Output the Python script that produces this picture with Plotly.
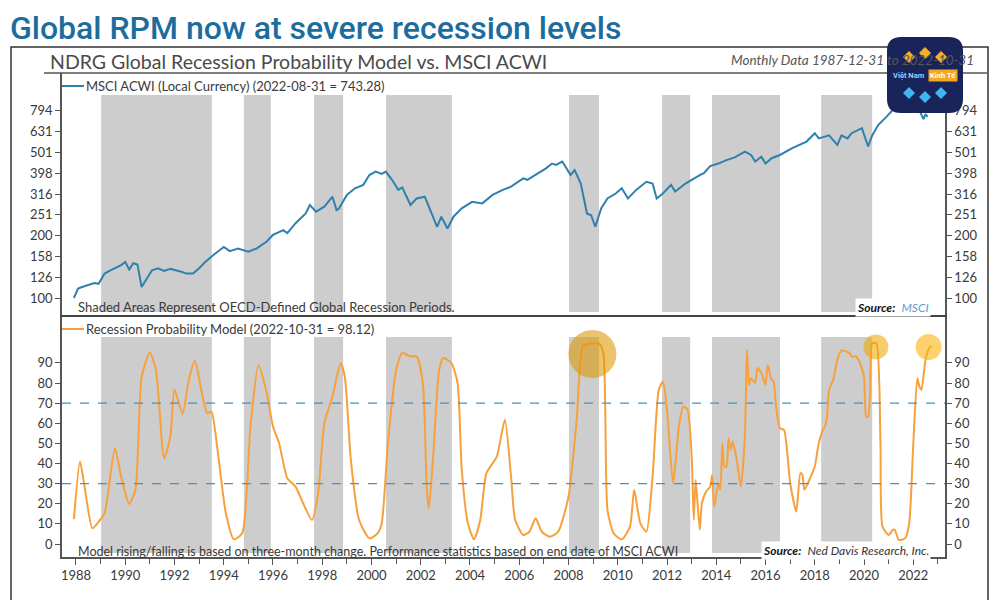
import plotly.graph_objects as go

# ---------------- data ----------------
msci_dates = [
    "1987-12", "1988-02", "1988-04", "1988-07", "1988-10", "1988-12", "1989-03", "1989-06",
    "1989-08", "1989-11", "1990-01", "1990-03", "1990-05", "1990-07", "1990-09", "1990-11",
    "1991-02", "1991-05", "1991-08", "1991-11", "1992-02", "1992-04", "1992-07", "1992-10",
    "1993-01", "1993-04", "1993-08", "1994-01", "1994-04", "1994-08", "1995-01", "1995-05",
    "1995-10", "1996-01", "1996-06", "1996-08", "1996-12", "1997-05", "1997-07", "1997-10",
    "1998-02", "1998-06", "1998-08", "1998-09", "1999-01", "1999-05", "1999-09", "1999-12",
    "2000-03", "2000-06", "2000-08", "2000-11", "2001-02", "2001-04", "2001-08", "2001-11",
    "2002-03", "2002-07", "2002-09", "2002-11", "2003-02", "2003-05", "2003-09", "2004-02",
    "2004-07", "2004-12", "2005-05", "2005-09", "2006-03", "2006-05", "2006-09", "2007-02",
    "2007-05", "2007-07", "2007-10", "2007-12", "2008-02", "2008-04", "2008-07", "2008-10",
    "2008-12", "2009-02", "2009-05", "2009-08", "2009-12", "2010-03", "2010-06", "2010-10",
    "2011-03", "2011-06", "2011-08", "2011-11", "2012-03", "2012-05", "2012-10", "2013-05",
    "2013-07", "2013-10", "2014-02", "2014-06", "2014-10", "2015-03", "2015-06", "2015-08",
    "2015-11", "2016-01", "2016-04", "2016-08", "2017-02", "2017-09", "2018-01", "2018-03",
    "2018-08", "2018-12", "2019-02", "2019-05", "2019-07", "2019-12", "2020-03", "2020-05",
    "2020-08", "2020-12", "2021-03", "2021-07", "2021-10", "2021-12", "2022-03", "2022-05",
    "2022-06", "2022-07", "2022-08",
]
msci_values = [
    100, 111, 113, 115, 118, 117, 131, 136,
    139, 144, 149, 137, 147, 145, 113, 122,
    136, 139, 135, 138, 136, 134, 131, 131,
    139, 149, 161, 176, 168, 173, 167, 173,
    187, 201, 212, 205, 229, 255, 280, 260,
    275, 307, 265, 268, 313, 337, 350, 390,
    405, 395, 405, 370, 331, 340, 280, 301,
    307, 246, 220, 246, 216, 246, 270, 290,
    285, 313, 331, 343, 376, 370, 390, 420,
    443, 436, 453, 420, 390, 412, 355, 255,
    250, 220, 270, 301, 318, 337, 301, 331,
    362, 355, 301, 318, 350, 325, 355, 390,
    398, 431, 443, 460, 474, 506, 487, 453,
    478, 443, 470, 487, 525, 565, 620, 585,
    605, 544, 605, 585, 620, 655, 535, 605,
    680, 745, 800, 846, 880, 900, 840, 759,
    725, 766, 743.28,
]

rpm_dates = [
    "1987-12", "1988-03", "1988-05", "1988-09", "1988-12", "1989-03", "1989-08", "1989-11",
    "1990-03", "1990-06", "1990-09", "1991-01", "1991-04", "1991-08", "1991-11", "1992-01",
    "1992-05", "1992-08", "1992-11", "1993-02", "1993-05", "1993-07", "1993-10", "1994-02",
    "1994-06", "1994-10", "1995-02", "1995-06", "1995-10", "1996-01", "1996-04", "1996-08",
    "1996-12", "1997-03", "1997-08", "1997-11", "1998-02", "1998-06", "1998-10", "1998-12",
    "1999-03", "1999-07", "1999-12", "2000-04", "2000-06", "2000-09", "2001-01", "2001-04",
    "2001-08", "2001-11", "2002-02", "2002-04", "2002-05", "2002-07", "2002-10", "2002-12",
    "2003-04", "2003-07", "2003-09", "2003-12", "2004-03", "2004-06", "2004-09", "2005-02",
    "2005-06", "2005-09", "2005-11", "2006-03", "2006-06", "2006-09", "2006-12", "2007-04",
    "2007-08", "2008-01", "2008-05", "2008-08", "2008-11", "2009-04", "2009-06", "2009-08",
    "2009-11", "2010-03", "2010-07", "2010-09", "2010-12", "2011-03", "2011-06", "2011-09",
    "2011-11", "2012-01", "2012-04", "2012-07", "2012-09", "2012-11", "2013-01", "2013-02",
    "2013-03", "2013-05", "2013-06", "2013-08", "2013-10", "2013-11", "2013-12", "2014-02",
    "2014-03", "2014-04", "2014-05", "2014-06", "2014-07", "2014-08", "2014-09", "2014-11",
    "2015-01", "2015-03", "2015-04", "2015-05", "2015-06", "2015-08", "2015-09", "2015-11",
    "2016-01", "2016-02", "2016-04", "2016-05", "2016-06", "2016-08", "2016-10", "2017-01",
    "2017-04", "2017-06", "2017-07", "2017-08", "2017-11", "2018-01", "2018-03", "2018-05",
    "2018-06", "2018-07", "2018-08", "2018-10", "2018-12", "2019-02", "2019-06", "2019-07",
    "2019-09", "2019-11", "2020-01", "2020-02", "2020-03", "2020-04", "2020-05", "2020-07",
    "2020-09", "2020-10", "2021-01", "2021-03", "2021-04", "2021-06", "2021-09", "2021-11",
    "2022-01", "2022-03", "2022-04", "2022-05", "2022-07", "2022-09", "2022-10",
]
rpm_values = [
    12.3, 41, 30, 7.8, 11, 15.3, 47.6, 33.5,
    19.9, 27, 83, 95.2, 86.6, 42.6, 53.4, 76.6,
    64.7, 81.6, 91.2, 76.6, 65, 65.8, 46.8, 15.3,
    2.3, 5.3, 58.4, 89, 75, 58.4, 50.1, 32.7,
    28.5, 21.9, 11.9, 25.2, 60, 73.3, 89.9, 83.2,
    41.8, 11.9, 2.8, 5.3, 10.3, 50.1, 86.6, 94.9,
    93.2, 93.2, 80, 26.9, 17.8, 41.8, 86.6, 92.4,
    89.9, 80, 36.8, 10.3, 2.3, 11.9, 35.2, 43.4,
    61.7, 33.5, 11.9, 4.5, 6.1, 12.8, 6.1, 3.6,
    6.1, 23.5, 61.7, 98.2, 99.5, 99.5, 94.9, 16.9,
    5.3, 2.3, 8.6, 26.9, 10.3, 6.1, 33.5, 76.6,
    80.7, 66.7, 30.2, 60, 68.3, 66.7, 43.4, 11.9,
    31.8, 7, 20.2, 26, 28.5, 34.3, 18.6, 30.2,
    26.9, 50.1, 38.5, 38.5, 52.6, 46.8, 50.9, 41.8,
    28.5, 53.4, 96.5, 79.1, 82.4, 80, 87.4, 84.9,
    79.1, 89, 81.6, 80.7, 70, 57.6, 56.7, 30.2,
    16.1, 35.2, 34.3, 26.9, 33.5, 38.5, 50.1, 56.7,
    58.4, 63.3, 76.6, 81.6, 91.5, 96.2, 94.9, 93.2,
    93.2, 89.9, 83.2, 63.3, 63.3, 75, 99.8, 99.8,
    50.1, 8.6, 4.5, 7, 7, 2, 2.8, 10.3,
    50.1, 82.4, 78.3, 76.6, 91.5, 97.8, 98.12,
]

recession_starts = ["1989-01-08", "1994-10-26", "1997-09-01", "2000-08-04",
                    "2008-01-08", "2011-10-19", "2013-10-30", "2018-04-05"]
recession_ends = ["1993-07-08", "1995-12-01", "1998-11-06", "2003-04-08",
                  "2009-03-28", "2012-12-10", "2016-08-03", "2020-05-01"]

highlight_dates = ["2008-12-20", "2020-06-25", "2022-08-15"]
highlight_values = [94.4, 97.9, 97.9]

msci_ticks = [100, 126, 158, 200, 251, 316, 398, 501, 631, 794]
rpm_ticks = [0, 10, 20, 30, 40, 50, 60, 70, 80, 90]
rpm_thresholds = [30, 70]

x_range = ["1987-06-08", "2023-04-16"]

# ---------------- helpers ----------------
W, H = 1000, 600
OFF = 8  # page body margin of the exported html


def px(x):
    return (x - OFF) / W


def py(y):
    return 1 - (y - OFF) / H


BLUE = "#2f80ad"
ORANGE = "#f7a03c"
SHADE = "#cdcdcd"
TXT = "#3a3a3a"
AX = "#555555"
FONT = "Lato"

X_DOM = [px(62), px(945)]
BOT_DOM = [py(557), py(315)]
TOP_DOM = [py(315), py(73)]

fig = go.Figure()

fig.add_trace(go.Scatter(
    x=msci_dates, y=msci_values, xaxis="x2", yaxis="y3", mode="lines",
    line=dict(color=BLUE, width=2), name="MSCI ACWI (Local Currency)", showlegend=False,
))
fig.add_trace(go.Scatter(x=[], y=[], xaxis="x2", yaxis="y4", showlegend=False))
fig.add_trace(go.Scatter(
    x=rpm_dates, y=rpm_values, xaxis="x", yaxis="y", mode="lines",
    line=dict(color=ORANGE, width=2, shape="spline", smoothing=0.6),
    name="Recession Probability Model", showlegend=False,
))
fig.add_trace(go.Scatter(x=[], y=[], xaxis="x", yaxis="y2", showlegend=False))
fig.add_trace(go.Scatter(
    x=highlight_dates, y=highlight_values, xaxis="x", yaxis="y", mode="markers",
    marker=dict(size=[48, 25, 26],
                color=["rgba(222,150,0,0.82)", "rgba(240,168,0,0.82)", "rgba(252,182,20,0.88)"],
                line=dict(width=0)),
    showlegend=False, hoverinfo="skip",
))

tickfont = dict(family=FONT, size=13, color=TXT)

fig.update_layout(
    width=W, height=H, margin=dict(l=0, r=0, t=0, b=0),
    paper_bgcolor="white", plot_bgcolor="white",
    showlegend=False,
    xaxis=dict(
        domain=X_DOM, anchor="y", type="date", range=x_range,
        tick0="1988-01-01", dtick="M24", tickformat="%Y",
        ticks="outside", ticklen=6, tickcolor=AX, tickwidth=1.2,
        minor=dict(dtick="M12", tick0="1988-01-01", ticks="outside", ticklen=5,
                   tickcolor=AX, tickwidth=1.2, showgrid=False),
        showline=True, linecolor=AX, linewidth=1.5, showgrid=False, zeroline=False,
        tickfont=tickfont,
    ),
    xaxis2=dict(
        domain=X_DOM, anchor="y3", type="date", range=x_range, matches="x",
        showticklabels=False, ticks="", showline=True, linecolor="#444444", linewidth=2,
        showgrid=False, zeroline=False,
    ),
    yaxis=dict(
        domain=BOT_DOM, anchor="x", range=[-6.46, 113.8],
        tickvals=rpm_ticks, ticks="outside", ticklen=5, tickcolor=AX,
        showline=True, linecolor=AX, linewidth=1.5, showgrid=False, zeroline=False,
        tickfont=tickfont,
    ),
    yaxis2=dict(
        overlaying="y", side="right", anchor="x", range=[-6.46, 113.8],
        tickvals=rpm_ticks, ticks="outside", ticklen=5, tickcolor=AX,
        showline=True, linecolor=AX, linewidth=1.5, showgrid=False, zeroline=False,
        tickfont=tickfont,
    ),
    yaxis3=dict(
        domain=TOP_DOM, anchor="x2", type="log", range=[1.9183, 3.0817],
        tickvals=msci_ticks, ticktext=[str(v) for v in msci_ticks],
        ticks="outside", ticklen=5, tickcolor=AX,
        showline=True, linecolor=AX, linewidth=1.5, showgrid=False, zeroline=False,
        tickfont=tickfont,
    ),
    yaxis4=dict(
        overlaying="y3", side="right", anchor="x2", type="log", range=[1.9183, 3.0817],
        tickvals=msci_ticks, ticktext=[str(v) for v in msci_ticks],
        ticks="outside", ticklen=5, tickcolor=AX,
        showline=True, linecolor=AX, linewidth=1.5, showgrid=False, zeroline=False,
        tickfont=tickfont,
    ),
)

shapes = []
top_lo, top_hi = (315 - 312) / 242, (315 - 95) / 242
bot_lo, bot_hi = (557 - 553) / 242, (557 - 337) / 242
for s, e in zip(recession_starts, recession_ends):
    shapes.append(dict(type="rect", xref="x2", yref="y3 domain", x0=s, x1=e, y0=top_lo, y1=top_hi,
                       fillcolor=SHADE, line=dict(width=0), layer="below"))
    shapes.append(dict(type="rect", xref="x", yref="y domain", x0=s, x1=e, y0=bot_lo, y1=bot_hi,
                       fillcolor=SHADE, line=dict(width=0), layer="below"))
for t in rpm_thresholds:
    shapes.append(dict(type="line", xref="x domain", yref="y", x0=0, x1=1, y0=t, y1=t,
                       line=dict(color="#4f90b8", width=1.3, dash="dash"), layer="above"))

# frame lines
shapes.append(dict(type="rect", xref="paper", yref="paper", x0=px(11), x1=px(988), y0=-0.1, y1=py(47),
                   line=dict(color="#333333", width=1.5), fillcolor="rgba(0,0,0,0)"))
shapes.append(dict(type="line", xref="paper", yref="paper", x0=px(44), x1=px(987), y0=py(73), y1=py(73),
                   line=dict(color="#555555", width=1.3)))
# legend swatches
shapes.append(dict(type="line", xref="paper", yref="paper", x0=px(62), x1=px(84), y0=py(86), y1=py(86),
                   line=dict(color=BLUE, width=2)))
shapes.append(dict(type="line", xref="paper", yref="paper", x0=px(62), x1=px(84), y0=py(329), y1=py(329),
                   line=dict(color=ORANGE, width=2)))
# watermark logo (rounded square with diamond decorations)
lx0, lx1, ly0, ly1, r = 887, 963, 37, 113, 14
path = (f"M {px(lx0 + r)} {py(ly0)} L {px(lx1 - r)} {py(ly0)} "
        f"Q {px(lx1)} {py(ly0)} {px(lx1)} {py(ly0 + r)} L {px(lx1)} {py(ly1 - r)} "
        f"Q {px(lx1)} {py(ly1)} {px(lx1 - r)} {py(ly1)} L {px(lx0 + r)} {py(ly1)} "
        f"Q {px(lx0)} {py(ly1)} {px(lx0)} {py(ly1 - r)} L {px(lx0)} {py(ly0 + r)} "
        f"Q {px(lx0)} {py(ly0)} {px(lx0 + r)} {py(ly0)} Z")
shapes.append(dict(type="path", xref="paper", yref="paper", path=path,
                   fillcolor="#19245a", line=dict(width=0), layer="above"))


def diamond(cx, cy, s, color):
    p = (f"M {px(cx)} {py(cy - s)} L {px(cx + s)} {py(cy)} L {px(cx)} {py(cy + s)} "
         f"L {px(cx - s)} {py(cy)} Z")
    return dict(type="path", xref="paper", yref="paper", path=p, fillcolor=color,
                line=dict(width=0), layer="above")


for cx, cy in [(909, 57), (925, 53), (941, 57)]:
    shapes.append(diamond(cx, cy, 6, "#f5b02a"))
for cx, cy in [(909, 93), (925, 97), (941, 93)]:
    shapes.append(diamond(cx, cy, 6, "#3fb6f0"))
fig.update_layout(shapes=shapes)

ann = []


def add_text(text, x, y, xanchor="left", size=13, color=TXT, family=FONT, weight=None, bg=None, **kw):
    f = dict(family=family, size=size, color=color)
    if weight:
        f["weight"] = weight
    d = dict(text=text, x=px(x), y=py(y), xref="paper", yref="paper", xanchor=xanchor,
             yanchor="middle", showarrow=False, font=f)
    if bg:
        d["bgcolor"] = bg
    d.update(kw)
    ann.append(d)


add_text("Global RPM now at severe recession levels", 9, 28, size=32, color="#1c6d9e",
         family="Roboto", weight=500, borderpad=0)
add_text("NDRG Global Recession Probability Model vs. MSCI ACWI", 48, 62, size=19.5, color="#4a4a4a")
add_text("<i>Monthly Data 1987-12-31 to 2022-10-31</i>", 976, 60, xanchor="right", size=13.5, color="#555555")
add_text("MSCI ACWI (Local Currency) (2022-08-31 = 743.28)", 84, 86, size=13)
add_text("Shaded Areas Represent OECD-Defined Global Recession Periods.", 76, 307, size=13)
add_text("<b><i>Source:</i></b>  <i><span style='color:#5b9bd5'>MSCI</span></i>", 931, 307,
         xanchor="right", size=12, color="#111111", bg="white")
add_text("Recession Probability Model (2022-10-31 = 98.12)", 84, 329, size=13)
add_text("Model rising/falling is based on three-month change. Performance statistics based on end date of MSCI ACWI",
         76, 551, size=12.5)
add_text("<b><i>Source:</i></b>  <i><span style='color:#333333'>Ned Davis Research, Inc.</span></i>", 931, 550,
         xanchor="right", size=12, color="#111111", bg="white")
# logo texts
add_text("<b>Việt Nam</b>", 909, 76, xanchor="center", size=7.5, color="#8fd3ff", family="Roboto")
add_text("<b>Kinh Tế</b>", 943, 76, xanchor="center", size=7.5, color="white", family="Roboto",
         bg="#f5a623", borderpad=1)

fig.update_layout(annotations=ann)

fig.write_html("out.html")
